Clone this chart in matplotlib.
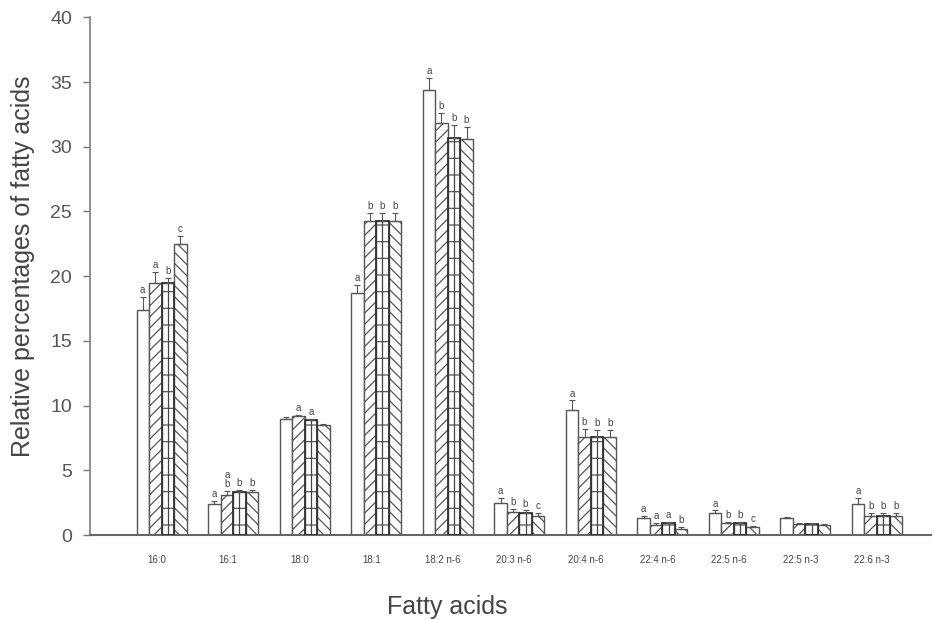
import matplotlib
matplotlib.use("Agg")
import matplotlib.pyplot as plt
import numpy as np

# Fatty acid groups
acids = ["16:0", "16:1", "18:0", "18:1", "18:2 n-6", "20:3 n-6",
         "20:4 n-6", "22:4 n-6", "22:5 n-6", "22:5 n-3", "22:6 n-3"]

# Relative percentages for the four diets
diet1 = [17.4, 2.4, 9.0, 18.7, 34.4, 2.5, 9.7, 1.3, 1.7, 1.3, 2.4]
diet2 = [19.5, 3.1, 9.2, 24.3, 31.8, 1.8, 7.6, 0.8, 0.9, 0.85, 1.5]
diet3 = [19.5, 3.3, 8.9, 24.3, 30.7, 1.7, 7.6, 0.9, 0.9, 0.85, 1.5]
diet4 = [22.5, 3.3, 8.5, 24.3, 30.6, 1.5, 7.6, 0.5, 0.6, 0.8, 1.5]

err1 = [1.0, 0.2, 0.1, 0.6, 0.9, 0.4, 0.7, 0.2, 0.2, 0.1, 0.5]
err2 = [0.8, 0.3, 0.1, 0.6, 0.8, 0.2, 0.6, 0.1, 0.1, 0.05, 0.2]
err3 = [0.4, 0.2, 0.1, 0.6, 1.0, 0.2, 0.5, 0.1, 0.1, 0.05, 0.2]
err4 = [0.6, 0.2, 0.1, 0.6, 0.9, 0.2, 0.5, 0.1, 0.1, 0.05, 0.2]

# Significance letters
let1 = ["a", "a", "", "a", "a", "a", "a", "a", "a", "", "a"]
let2 = ["a", "a\nb", "a", "b", "b", "b", "b", "a", "b", "", "b"]
let3 = ["b", "b", "a", "b", "b", "b", "b", "a", "b", "", "b"]
let4 = ["c", "b", "", "b", "b", "c", "b", "b", "c", "", "b"]

values = [diet1, diet2, diet3, diet4]
errors = [err1, err2, err3, err4]
letters = [let1, let2, let3, let4]
hatches = ["", "///", "-", "\\\\\\"]

plt.rcParams["font.family"] = ["Liberation Sans", "DejaVu Sans"]
plt.rcParams["hatch.linewidth"] = 0.9
plt.rcParams["hatch.color"] = "#444444"

fig = plt.figure(figsize=(9.34, 6.2), dpi=100)
ax = fig.add_axes([0.0964, 0.137, 0.9, 0.835])

x = np.arange(len(acids))
w = 0.175
for k in range(4):
    pos = x + (k - 1.5) * w
    ax.bar(pos, values[k], width=w, facecolor="white", edgecolor="#555555",
           linewidth=1.0, hatch=hatches[k], zorder=2)
    if k == 2:
        # the grid pattern has a centre line
        ax.vlines(pos, 0, values[k], color="#444444", linewidth=0.9, zorder=2.5)
        ax.bar(pos, values[k], width=w, facecolor="none", edgecolor="#333333",
               linewidth=1.3, zorder=2.6)
    ax.errorbar(pos, values[k], yerr=[np.zeros(len(acids)), errors[k]], fmt="none",
                ecolor="#555555", elinewidth=0.8, capsize=2.5, capthick=0.8, zorder=3)
    for p, v, e, s in zip(pos, values[k], errors[k], letters[k]):
        if s:
            ax.text(p, v + e + 0.15, s, ha="center", va="bottom", fontsize=7,
                    color="#444444", linespacing=0.9)

ax.set_xlim(-1.0, 10.75)
ax.set_ylim(0, 40)
ax.set_yticks(range(0, 41, 5))
ax.set_xticks(x - 0.07)
ax.set_xticklabels(acids, fontsize=7, color="#444444")
ax.tick_params(axis="x", length=0, pad=14)
ax.tick_params(axis="y", direction="out", length=5, width=1, labelsize=14,
               colors="#777777", labelcolor="#555555", pad=8)

for side in ["top", "right"]:
    ax.spines[side].set_visible(False)
ax.spines["left"].set_color("#888888")
ax.spines["left"].set_linewidth(1.3)
ax.spines["bottom"].set_color("#666666")
ax.spines["bottom"].set_linewidth(1.5)

ax.set_ylabel("Relative percentages of fatty acids", fontsize=18, color="#444444")
ax.yaxis.set_label_coords(-0.066, 0.52)
ax.set_xlabel("Fatty acids", fontsize=18, color="#444444")
ax.xaxis.set_label_coords(0.425, -0.115)

fig.savefig("out.png", dpi=100)
